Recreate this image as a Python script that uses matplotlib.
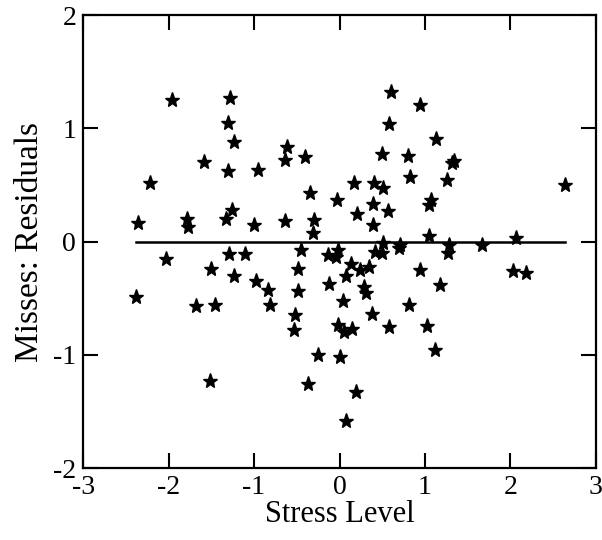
import numpy as np
import matplotlib.pyplot as plt

# stress level (x) and residual of misses (y)
stress = [-1.96, -1.28, -1.31, -1.23, -1.58, -2.22, -1.30, -0.95, -0.61, -0.64,
          -0.40, -0.34, -0.035, -2.36, -1.79, -1.77, -1.26, -1.33, -1.00, -0.635,
          -0.30, -0.31, 0.60, 0.945, 0.58, 1.13, 0.50, 0.80, 1.31, 1.34,
          0.82, 1.26, 0.17, 0.40, 0.51, 0.39, 1.07, 1.05, 0.20, 0.57,
          0.39, 2.64, 1.05, 2.07, 0.51, -0.45, -0.02, -0.13, -0.04, 0.42,
          0.50, 0.69, 0.705, 1.28, 1.27, 1.67, 0.14, 0.24, 0.34, -0.49,
          0.94, 0.07, 2.03, 2.18, -0.12, 1.17, -0.48, 0.285, 0.31, 0.035,
          0.815, -0.52, 0.38, -0.53, -0.015, 0.055, 0.15, 0.575, 1.02, 1.12,
          -0.25, 0.00, -0.37, 0.19, 0.08, -2.03, -1.50, -1.29, -1.11, -1.24,
          -0.98, -0.835, -0.815, -2.38, -1.68, -1.455, -1.51]
resid = [1.25, 1.27, 1.05, 0.88, 0.705, 0.52, 0.62, 0.63, 0.84, 0.72,
         0.745, 0.43, 0.37, 0.165, 0.20, 0.125, 0.28, 0.20, 0.15, 0.18,
         0.19, 0.08, 1.325, 1.21, 1.04, 0.91, 0.77, 0.755, 0.69, 0.71,
         0.575, 0.54, 0.52, 0.52, 0.47, 0.335, 0.365, 0.32, 0.24, 0.27,
         0.148, 0.50, 0.047, 0.035, -0.01, -0.075, -0.07, -0.12, -0.135, -0.095,
         -0.10, -0.06, -0.027, -0.027, -0.10, -0.027, -0.20, -0.25, -0.22, -0.245,
         -0.25, -0.30, -0.26, -0.28, -0.37, -0.38, -0.44, -0.40, -0.45, -0.52,
         -0.56, -0.645, -0.64, -0.78, -0.74, -0.80, -0.77, -0.75, -0.745, -0.96,
         -1.00, -1.015, -1.26, -1.33, -1.585, -0.15, -0.24, -0.107, -0.107, -0.30,
         -0.35, -0.425, -0.56, -0.49, -0.57, -0.56, -1.23]

plt.rcParams['font.family'] = ['Liberation Serif', 'DejaVu Serif']
plt.rcParams['axes.unicode_minus'] = False

fig = plt.figure(figsize=(6.02, 5.4), dpi=100)
ax = fig.add_axes([0.138, 0.133, 0.852, 0.839])

ax.plot(stress, resid, linestyle='none', marker='*', markersize=11,
        color='black')
# zero reference line across the data range
ax.plot([min(stress), max(stress)], [0, 0], color='black', linewidth=1.8)

ax.set_xlim(-3, 3)
ax.set_ylim(-2, 2)
ax.set_xticks(np.arange(-3, 4, 1))
ax.set_yticks(np.arange(-2, 3, 1))
ax.tick_params(direction='in', length=11, width=1.5, top=True, right=True,
               labelsize=20, pad=5)
for s in ax.spines.values():
    s.set_linewidth(1.6)

ax.set_xlabel('Stress Level', fontsize=22, labelpad=0)
ax.set_ylabel('Misses: Residuals', fontsize=24, labelpad=6)

fig.savefig('out.png', dpi=100)
